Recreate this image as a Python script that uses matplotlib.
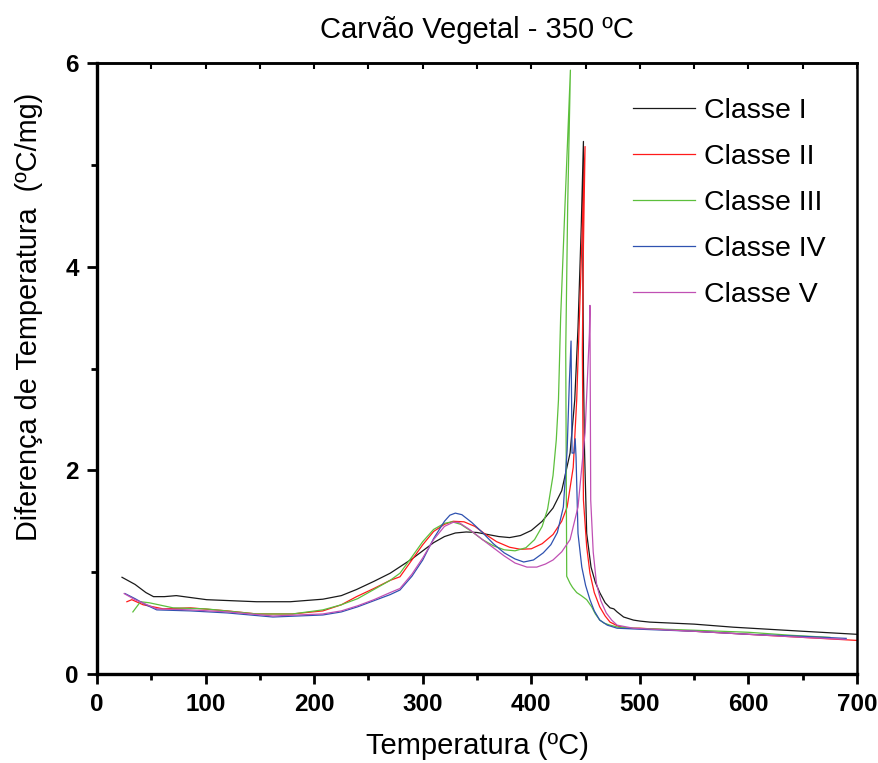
import matplotlib
matplotlib.use("Agg")
import matplotlib.pyplot as plt
from matplotlib.ticker import MultipleLocator

plt.rcParams["font.family"] = ["Liberation Sans", "DejaVu Sans"]

# Classe I (black)
x_c1 = [23, 35, 45, 52, 62, 73, 101, 147, 178, 208, 225, 239, 255, 270, 280,
        290, 300, 310, 320, 330, 340, 350, 360, 370, 380, 390, 400, 410, 420,
        428, 435.7, 440, 443, 446, 448, 447.5, 448, 449, 451, 455, 459, 463,
        468, 472.5, 476, 479, 485, 494, 500, 509, 550, 586, 650, 700]
y_c1 = [0.95, 0.88, 0.80, 0.76, 0.76, 0.77, 0.73, 0.71, 0.71, 0.735, 0.77,
        0.83, 0.91, 0.99, 1.06, 1.13, 1.21, 1.29, 1.35, 1.385, 1.395, 1.39,
        1.37, 1.35, 1.34, 1.36, 1.41, 1.50, 1.63, 1.80, 2.17, 2.69, 3.4, 4.4,
        5.23, 4.0, 3.0, 2.2, 1.38, 1.05, 0.9, 0.80, 0.70, 0.65, 0.64, 0.61,
        0.56, 0.53, 0.52, 0.51, 0.49, 0.46, 0.42, 0.39]

# Classe II (red)
x_c2 = [27.5, 32, 42.5, 61, 86, 120, 147, 180, 208, 225, 239, 255, 270, 279,
        290, 300, 310, 320, 328, 338, 348, 358, 368, 380, 390, 400, 410, 420,
        428, 433, 438.6, 441.8, 444, 447, 449.5, 448, 447, 448, 451, 454, 458,
        463, 468, 472.5, 480, 488, 500, 550, 600, 650, 700]
y_c2 = [0.71, 0.73, 0.68, 0.64, 0.65, 0.62, 0.59, 0.59, 0.62, 0.68, 0.76,
        0.84, 0.92, 0.955, 1.12, 1.27, 1.40, 1.47, 1.50, 1.495, 1.45, 1.37,
        1.30, 1.245, 1.225, 1.23, 1.28, 1.37, 1.50, 1.64, 2.03, 2.69, 3.4,
        4.4, 5.18, 4.2, 3.18, 1.71, 1.25, 0.99, 0.80, 0.66, 0.57, 0.51, 0.47,
        0.45, 0.45, 0.42, 0.39, 0.36, 0.33]

# Classe III (green)
x_c3 = [33, 40, 48, 70, 100, 147, 180, 208, 225, 240, 255, 270, 279, 290, 300,
        310, 320, 327, 335, 345, 355, 365, 375, 385, 395, 403, 410, 415, 420,
        423, 425, 427, 431, 436, 433.5, 431.7, 432.6, 435.7, 438, 441.8, 446,
        451, 455.6, 459, 463, 467, 472.5, 480, 494, 550, 600, 640, 675]
y_c3 = [0.61, 0.71, 0.70, 0.65, 0.64, 0.59, 0.59, 0.63, 0.68, 0.74, 0.83,
        0.92, 0.99, 1.15, 1.30, 1.42, 1.48, 1.495, 1.47, 1.40, 1.32, 1.26,
        1.22, 1.21, 1.24, 1.32, 1.45, 1.62, 1.95, 2.3, 2.69, 3.5, 4.6, 5.93,
        4.6, 3.18, 0.96, 0.89, 0.85, 0.80, 0.77, 0.73, 0.66, 0.59, 0.53, 0.50,
        0.48, 0.46, 0.45, 0.43, 0.41, 0.38, 0.36]

# Classe IV (blue)
x_c4 = [25.8, 35, 45, 55, 86, 120, 162, 208, 225, 240, 255, 270, 279, 290,
        300, 310, 320, 325, 330, 336, 345, 355, 365, 375, 385, 393, 402, 411,
        418, 424, 429.5, 433, 435, 436.6, 437.5, 439.3, 440.4, 441.2, 443,
        446.5, 450, 454, 458, 463, 470, 479, 500, 550, 600, 650, 690]
y_c4 = [0.79, 0.74, 0.68, 0.63, 0.62, 0.60, 0.56, 0.58, 0.61, 0.66, 0.72,
        0.78, 0.825, 0.96, 1.12, 1.33, 1.50, 1.56, 1.58, 1.565, 1.49, 1.39,
        1.28, 1.19, 1.13, 1.10, 1.12, 1.19, 1.27, 1.39, 1.64, 2.2, 2.86,
        3.27, 2.17, 2.17, 2.31, 2.13, 1.38, 1.05, 0.87, 0.73, 0.62, 0.53,
        0.48, 0.45, 0.44, 0.42, 0.39, 0.37, 0.35]

# Classe V (magenta)
x_c5 = [25, 35, 55, 86, 120, 162, 208, 225, 240, 255, 270, 279, 290, 300, 310,
        320, 328, 333, 343, 355, 365, 375, 385, 396, 405, 413, 420, 428,
        435.7, 443, 449.5, 453.5, 454, 454.7, 457, 460, 464, 469, 474, 479,
        494, 550, 600, 650, 690]
y_c5 = [0.79, 0.73, 0.64, 0.63, 0.61, 0.57, 0.59, 0.62, 0.67, 0.73, 0.80,
        0.84, 0.98, 1.14, 1.32, 1.45, 1.49, 1.49, 1.42, 1.32, 1.24, 1.16,
        1.09, 1.05, 1.05, 1.08, 1.12, 1.20, 1.32, 1.64, 2.37, 3.35, 3.62,
        1.71, 1.20, 0.89, 0.72, 0.60, 0.53, 0.48, 0.45, 0.42, 0.39, 0.36,
        0.34]

labels = ["Classe I", "Classe II", "Classe III", "Classe IV", "Classe V"]
colors = ["#1a1a1a", "#ff1a1a", "#5cbf3c", "#2f52b0", "#c050b4"]

fig = plt.figure(figsize=(8.79, 7.63), dpi=100)
ax = fig.add_axes([0.1104, 0.1166, 0.8646, 0.8008])

series = [(x_c1, y_c1), (x_c2, y_c2), (x_c3, y_c3), (x_c4, y_c4), (x_c5, y_c5)]
for (xs, ys), lab, col in zip(series, labels, colors):
    ax.plot(xs, ys, color=col, lw=0.9, label=lab)

ax.set_xlim(0, 700)
ax.set_ylim(0, 6)
ax.xaxis.set_major_locator(MultipleLocator(100))
ax.xaxis.set_minor_locator(MultipleLocator(50))
ax.yaxis.set_major_locator(MultipleLocator(2))
ax.yaxis.set_minor_locator(MultipleLocator(1))

for side in ["left", "bottom"]:
    ax.spines[side].set_linewidth(2.4)
for side in ["top", "right"]:
    ax.spines[side].set_linewidth(1.8)

ax.tick_params(axis="both", which="major", direction="out", length=7, width=2,
               labelsize=17.5)
ax.tick_params(axis="x", which="major", pad=7)
ax.tick_params(axis="y", which="major", pad=6)
ax.tick_params(axis="both", which="minor", direction="out", length=4, width=2)
for lbl in ax.get_yticklabels() + ax.get_xticklabels():
    lbl.set_fontweight("bold")

# small inward ticks along the top edge
top = ax.secondary_xaxis("top")
top.xaxis.set_major_locator(MultipleLocator(50))
top.tick_params(direction="in", length=4, width=1.5, labeltop=False)
top.spines["top"].set_linewidth(1.8)

ax.set_xlabel("Temperatura (ºC)", fontsize=21, labelpad=11)
ax.set_ylabel("Diferença de Temperatura  (ºC/mg)", fontsize=20.8)
ax.yaxis.set_label_coords(-0.071, 0.584)
ax.set_title("Carvão Vegetal - 350 ºC", fontsize=21, pad=18)

ax.legend(loc="upper left", bbox_to_anchor=(0.705, 0.942), frameon=False,
          fontsize=20.5, borderpad=0, borderaxespad=0, handlelength=2.2,
          labelspacing=0.7, handletextpad=0.3)

fig.savefig("out.png", dpi=100)
